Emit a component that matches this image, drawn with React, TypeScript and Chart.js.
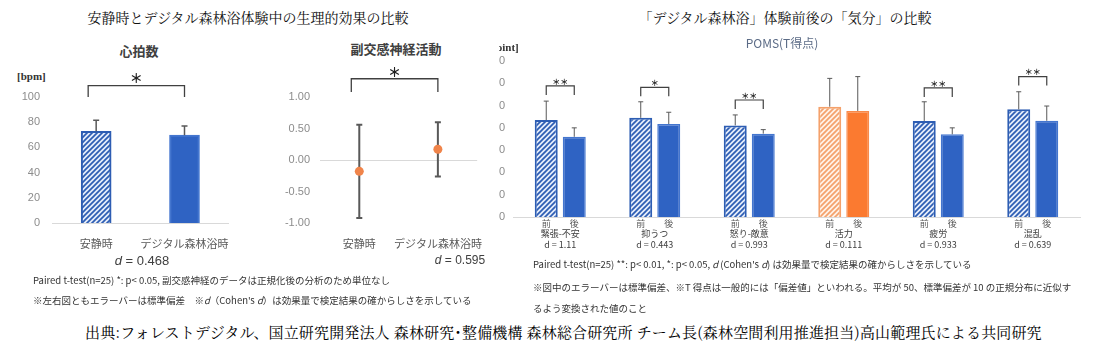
import React, { useEffect, useRef } from 'react';
import { Chart, registerables } from 'chart.js';
Chart.register(...registerables);

// ---------- data ----------
const hrCategories = ['安静時', 'デジタル森林浴時'];
const hrMeans = [72.8, 69.7];
const hrSD = [8.7, 7.3];
const hrTicks = [0, 20, 40, 60, 80, 100];
const hrSig = '＊';
const hrBracket = [109, 100];
const hrEffect = '0.468';

const hfCategories = ['安静時', 'デジタル森林浴時'];
const hfMeans = [-0.18, 0.17];
const hfSD = [0.74, 0.43];
const hfSig = '＊';
const hfBracket = [1.29, 1.08];
const hfEffect = '0.595';

const pomsCategories = ['緊張-不安', '抑うつ', '怒り-敵意', '活力', '疲労', '混乱'];
const pomsEffect = ['1.11', '0.443', '0.993', '0.111', '0.933', '0.639'];
const pomsBefore = [43.5, 44.5, 41.1, 49.5, 43.1, 48.3];
const pomsBeforeSD = [8.5, 7.2, 4.7, 12.7, 8.6, 7.9];
const pomsAfter = [36.0, 41.7, 37.4, 47.6, 37.1, 43.2];
const pomsAfterSD = [4.0, 5.3, 1.8, 15.4, 2.9, 6.6];
const pomsSig = ['＊＊', '＊', '＊＊', '', '＊＊', '＊＊'];
const pomsBracket = [58.8, 58.2, 52.5, 0, 57.9, 63.0];
const pomsPhase = ['前', '後'];

// ---------- styles ----------
const FONT_JP = '"Noto Sans CJK JP", "Noto Sans", sans-serif';
const FONT_SERIF = '"Noto Serif CJK JP", "Noto Sans CJK JP", serif';
const FONT_NUM = '"Liberation Sans", "Noto Sans", sans-serif';
const BLUE = '#2F63C3';
const BLUE_DARK = '#2D5DB3';
const ORANGE = '#FB7A30';
const ORANGE_LIGHT = '#F4A16B';
const ERR = '#595959';

function hatch(line: string, bg: string): CanvasPattern {
  const s = 5;
  const c = document.createElement('canvas');
  c.width = s;
  c.height = s;
  const g = c.getContext('2d')!;
  g.fillStyle = bg;
  g.fillRect(0, 0, s, s);
  g.strokeStyle = line;
  g.lineWidth = 1.7;
  g.beginPath();
  g.moveTo(0, s); g.lineTo(s, 0);
  g.moveTo(-1, 1); g.lineTo(1, -1);
  g.moveTo(s - 1, s + 1); g.lineTo(s + 1, s - 1);
  g.stroke();
  return g.createPattern(c, 'repeat')!;
}

function drawBracket(ctx: CanvasRenderingContext2D, x1: number, x2: number, yTop: number, yLeg: number, label: string, size: number, lw: number) {
  ctx.save();
  ctx.strokeStyle = '#404040';
  ctx.lineWidth = lw;
  ctx.beginPath();
  ctx.moveTo(x1, yLeg);
  ctx.lineTo(x1, yTop);
  ctx.lineTo(x2, yTop);
  ctx.lineTo(x2, yLeg);
  ctx.stroke();
  ctx.fillStyle = '#202020';
  ctx.font = `bold ${size}px ${FONT_JP}`;
  ctx.textAlign = 'center';
  ctx.textBaseline = 'middle';
  ctx.fillText(label, (x1 + x2) / 2, yTop - size * 0.55);
  ctx.restore();
}

function errUp(ctx: CanvasRenderingContext2D, x: number, y0: number, y1: number, cap: number) {
  ctx.moveTo(x, y0);
  ctx.lineTo(x, y1);
  ctx.moveTo(x - cap, y1);
  ctx.lineTo(x + cap, y1);
}

const catTicks = { font: { family: FONT_JP, size: 11 }, color: '#595959', padding: 14, autoSkip: false, maxRotation: 0, minRotation: 0 };

// ---------- chart configs ----------
function makeHR(): any {
  return {
    type: 'bar',
    data: {
      labels: hrCategories,
      datasets: [{
        data: hrMeans,
        backgroundColor: [hatch(BLUE_DARK, '#E4ECFA'), BLUE],
        borderColor: [BLUE_DARK, '#4476CF'],
        borderWidth: 2,
        barThickness: 30,
      }],
    },
    options: {
      animation: false,
      responsive: false,
      maintainAspectRatio: false,
      layout: { padding: { top: 97, right: 10, left: 0, bottom: 0 } },
      plugins: { legend: { display: false }, tooltip: { enabled: false } },
      scales: {
        x: {
          grid: { display: false, drawTicks: false },
          border: { display: true, color: '#D9D9D9' },
          ticks: catTicks,
          afterFit: (s: any) => { s.height = 52; },
        },
        y: {
          min: 0, max: 100,
          afterBuildTicks: (s: any) => { s.ticks = hrTicks.map((v) => ({ value: v })); },
          ticks: { font: { family: FONT_NUM, size: 11 }, color: '#8C8C8C', padding: 12 },
          grid: { display: false, drawTicks: false },
          border: { display: false },
          afterFit: (s: any) => { s.width = 52; },
        },
      },
    },
    plugins: [{
      id: 'hrMarks',
      afterDatasetsDraw(chart: any) {
        const ctx = chart.ctx;
        const y = chart.scales.y;
        const els = chart.getDatasetMeta(0).data;
        ctx.save();
        ctx.strokeStyle = ERR;
        ctx.lineWidth = 1.5;
        ctx.beginPath();
        els.forEach((el: any, i: number) => errUp(ctx, el.x, el.y, y.getPixelForValue(hrMeans[i] + hrSD[i]), 3));
        ctx.stroke();
        ctx.restore();
        drawBracket(ctx, els[0].x - 8, els[1].x, y.getPixelForValue(hrBracket[0]), y.getPixelForValue(hrBracket[1]), hrSig, 13, 1.3);
      },
    }],
  };
}

function makeHF(): any {
  return {
    type: 'line',
    data: {
      labels: hfCategories,
      datasets: [{
        data: hfMeans,
        showLine: false,
        pointRadius: 4.5,
        pointBackgroundColor: '#F0844A',
        pointBorderWidth: 0,
      }],
    },
    options: {
      animation: false,
      responsive: false,
      maintainAspectRatio: false,
      layout: { padding: { top: 97, right: 0, left: 0, bottom: 0 } },
      plugins: { legend: { display: false }, tooltip: { enabled: false } },
      scales: {
        x: {
          offset: true,
          grid: { display: false, drawTicks: false },
          border: { display: false },
          ticks: catTicks,
          afterFit: (s: any) => { s.height = 52; },
        },
        y: {
          min: -1, max: 1,
          ticks: {
            stepSize: 0.5,
            font: { family: FONT_NUM, size: 11 }, color: '#8C8C8C', padding: 10,
            callback: (v: number) => v.toFixed(2),
          },
          grid: {
            drawTicks: false,
            color: (c: any) => (c.tick && c.tick.value === 0 ? '#D9D9D9' : 'rgba(0,0,0,0)'),
          },
          border: { display: false },
          afterFit: (s: any) => { s.width = 75; },
        },
      },
    },
    plugins: [{
      id: 'hfMarks',
      beforeDatasetsDraw(chart: any) {
        const ctx = chart.ctx;
        const y = chart.scales.y;
        const els = chart.getDatasetMeta(0).data;
        ctx.save();
        ctx.strokeStyle = ERR;
        ctx.lineWidth = 2;
        ctx.beginPath();
        els.forEach((el: any, i: number) => {
          const t = y.getPixelForValue(hfMeans[i] + hfSD[i]);
          const b = y.getPixelForValue(hfMeans[i] - hfSD[i]);
          ctx.moveTo(el.x, t); ctx.lineTo(el.x, b);
          ctx.moveTo(el.x - 3, t); ctx.lineTo(el.x + 3, t);
          ctx.moveTo(el.x - 3, b); ctx.lineTo(el.x + 3, b);
        });
        ctx.stroke();
        ctx.restore();
      },
      afterDatasetsDraw(chart: any) {
        const y = chart.scales.y;
        const els = chart.getDatasetMeta(0).data;
        drawBracket(chart.ctx, els[0].x - 8, els[1].x, y.getPixelForValue(hfBracket[0]), y.getPixelForValue(hfBracket[1]), hfSig, 13, 1.3);
      },
    }],
  };
}

function makePOMS(): any {
  const hb = hatch(BLUE_DARK, '#E4ECFA');
  const ho = hatch(ORANGE_LIGHT, '#FFF1E6');
  return {
    type: 'bar',
    data: {
      labels: pomsCategories,
      datasets: [
        {
          data: pomsBefore,
          backgroundColor: pomsCategories.map((_, i) => (i === 3 ? ho : hb)),
          borderColor: pomsCategories.map((_, i) => (i === 3 ? ORANGE_LIGHT : BLUE_DARK)),
          borderWidth: 2,
          categoryPercentage: 0.593,
          barPercentage: 0.82,
        },
        {
          data: pomsAfter,
          backgroundColor: pomsCategories.map((_, i) => (i === 3 ? ORANGE : BLUE)),
          borderColor: pomsCategories.map((_, i) => (i === 3 ? '#F98A4A' : '#4476CF')),
          borderWidth: 1.5,
          categoryPercentage: 0.593,
          barPercentage: 0.82,
        },
      ],
    },
    options: {
      animation: false,
      responsive: false,
      maintainAspectRatio: false,
      layout: { padding: { top: 61, right: 17, left: 0, bottom: 0 } },
      plugins: { legend: { display: false }, tooltip: { enabled: false } },
      scales: {
        x: {
          grid: { display: false, drawTicks: false },
          border: { display: true, color: '#D9D9D9' },
          ticks: {
            font: { family: FONT_JP, size: 9, lineHeight: 1.2 }, color: '#404040', padding: 11,
            autoSkip: false, maxRotation: 0, minRotation: 0,
            callback: (_: any, i: number) => [pomsCategories[i], 'd = ' + pomsEffect[i]],
          },
          afterFit: (s: any) => { s.height = 58; },
        },
        y: {
          min: 0, max: 70,
          ticks: { stepSize: 10, font: { family: FONT_NUM, size: 11 }, color: '#8C8C8C', padding: 8 },
          grid: { display: false, drawTicks: false },
          border: { display: false },
          afterFit: (s: any) => { s.width = 36; },
        },
      },
    },
    plugins: [{
      id: 'pomsMarks',
      afterDatasetsDraw(chart: any) {
        const ctx = chart.ctx;
        const y = chart.scales.y;
        const m0 = chart.getDatasetMeta(0).data;
        const m1 = chart.getDatasetMeta(1).data;
        ctx.save();
        ctx.strokeStyle = ERR;
        ctx.lineWidth = 1;
        ctx.beginPath();
        m0.forEach((el: any, i: number) => errUp(ctx, el.x, el.y, y.getPixelForValue(pomsBefore[i] + pomsBeforeSD[i]), 2.5));
        m1.forEach((el: any, i: number) => errUp(ctx, el.x, el.y, y.getPixelForValue(pomsAfter[i] + pomsAfterSD[i]), 2.5));
        ctx.stroke();
        ctx.fillStyle = '#595959';
        ctx.font = `9px ${FONT_JP}`;
        ctx.textAlign = 'center';
        ctx.textBaseline = 'middle';
        const base = chart.chartArea.bottom;
        m0.forEach((el: any, i: number) => {
          ctx.fillText(pomsPhase[0], el.x, base + 7);
          ctx.fillText(pomsPhase[1], m1[i].x, base + 7);
        });
        ctx.restore();
        pomsSig.forEach((s, i) => {
          if (!s) return;
          const top = y.getPixelForValue(pomsBracket[i]);
          drawBracket(ctx, m0[i].x, m1[i].x, top, top + 9, s, 8, 1.2);
        });
      },
    }],
  };
}

// ---------- components ----------
function ChartCanvas({ left, top, width, height, make }: any) {
  const ref = useRef<HTMLCanvasElement>(null);
  useEffect(() => {
    const c = new Chart(ref.current!, make());
    return () => c.destroy();
  }, []);
  return (
    <canvas
      ref={ref}
      width={width}
      height={height}
      style={{ position: 'absolute', left, top, width, height }}
    />
  );
}

function T({ x, y, size = 12, color = '#404040', center = false, weight = 400, family = FONT_JP, spacing = 0, children }: any) {
  return (
    <div
      style={{
        position: 'absolute', left: x, top: y,
        transform: center ? 'translate(-50%,-50%)' : 'translateY(-50%)',
        fontSize: size, color, fontWeight: weight, fontFamily: family,
        whiteSpace: 'nowrap', lineHeight: 1, letterSpacing: spacing,
      }}
    >
      {children}
    </div>
  );
}

export default function App() {
  return (
    <div style={{ position: 'fixed', left: 0, top: 0, width: 1097, height: 352, background: '#fff', overflow: 'hidden' }}>
      <T x={248} y={17} size={14} center family={FONT_SERIF} color="#111">安静時とデジタル森林浴体験中の生理的効果の比較</T>
      <T x={785} y={17} size={14} center family={FONT_SERIF} color="#111">「デジタル森林浴」体験前後の「気分」の比較</T>

      <T x={139} y={50} size={13} center weight={700} color="#404040">心拍数</T>
      <T x={17} y={76} size={11} weight={700} family='"Liberation Serif", serif' color="#333">[bpm]</T>
      <ChartCanvas left={0} top={0} width={245} height={275} make={makeHR} />
      <T x={142} y={260} size={13} center family={FONT_NUM} color="#404040"><i>d</i> = {hrEffect}</T>

      <T x={396} y={48} size={13} center weight={700} color="#404040">副交感神経活動</T>
      <ChartCanvas left={245} top={0} width={252} height={275} make={makeHF} />
      <T x={460} y={260} size={12} center family={FONT_NUM} color="#404040"><i>d</i> = {hfEffect}</T>

      <div style={{ position: 'absolute', left: 499, top: 0, width: 598, height: 275, overflow: 'hidden' }}>
        <ChartCanvas left={-22} top={0} width={620} height={275} make={makePOMS} />
        <T x={-12} y={47} size={11} weight={700} family='"Liberation Serif", serif' color="#333">[point]</T>
      </div>
      <T x={782} y={43} size={12} center color="#5B6B86">POMS(T得点)</T>

      <T x={33} y={281} size={9.5} color="#333">Paired t-test(n=25) *: p&lt; 0.05, 副交感神経のデータは正規化後の分析のため単位なし</T>
      <T x={33} y={301} size={9.5} color="#333">※左右図ともエラーバーは標準偏差　※<i>d</i>（Cohen's <i>d</i>）は効果量で検定結果の確からしさを示している</T>
      <T x={533} y={265} size={9.5} color="#333">Paired t-test(n=25) **: p&lt; 0.01, *: p&lt; 0.05, <i>d</i> (Cohen's <i>d</i>) は効果量で検定結果の確からしさを示している</T>
      <T x={533} y={288} size={9.5} color="#333">※図中のエラーバーは標準偏差、※T 得点は一般的には「偏差値」といわれる。平均が 50、標準偏差が 10 の正規分布に近似す</T>
      <T x={533} y={309} size={9.5} color="#333">るよう変換された値のこと</T>

      <T x={85} y={331} size={15} spacing={0.15} family={FONT_SERIF} color="#000">出典:フォレストデジタル、国立研究開発法人 森林研究･整備機構 森林総合研究所 チーム長(森林空間利用推進担当)高山範理氏による共同研究</T>
    </div>
  );
}
